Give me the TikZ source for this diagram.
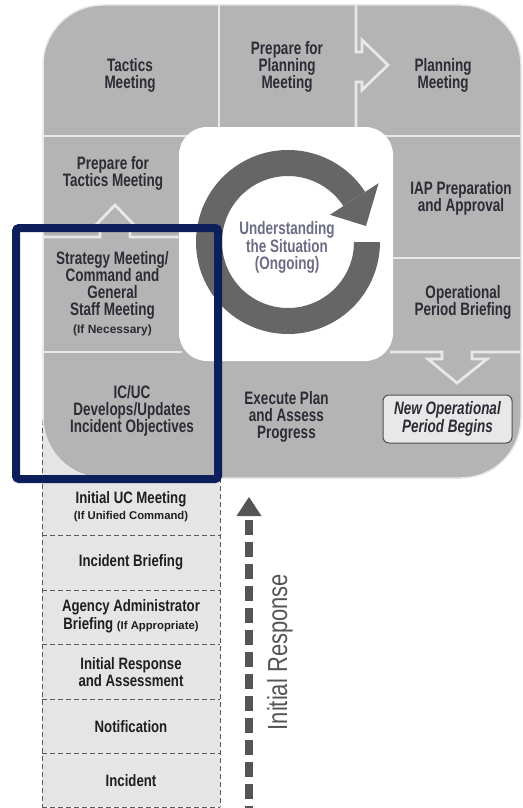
\documentclass[tikz,border=0pt]{standalone}
\usepackage{fontspec}
\setmainfont{Liberation Sans}
\newfontfamily\cf{Liberation Sans}[FakeStretch=0.8]
\newfontfamily\gf{Liberation Sans}[FakeStretch=0.75]
\newfontfamily\nf{Liberation Sans}
\definecolor{grayc}{HTML}{B4B4B4}
\definecolor{divc}{HTML}{E8E8E8}
\definecolor{ringc}{HTML}{666666}
\definecolor{txtc}{HTML}{2C2C36}
\definecolor{ctxt}{HTML}{6C6C86}
\definecolor{navyc}{HTML}{0C1F5B}
\definecolor{stackc}{HTML}{E5E5E5}
\definecolor{dashc}{HTML}{5A5A5A}
\definecolor{arrc}{HTML}{555555}
\definecolor{boxc}{HTML}{E8E8E8}
\definecolor{boxd}{HTML}{505050}
\tikzset{
  divline/.style={draw=divc, line width=2.8pt, line join=miter},
  cell/.style={font=\gf\bfseries\fontsize{18}{16.9}\selectfont, text=txtc, align=center, inner sep=0pt},
  stxt/.style={font=\cf\bfseries\fontsize{16.5}{17}\selectfont, text=black!88, align=center, inner sep=0pt},
  smalltxt/.style={font=\nf\bfseries\fontsize{11.3}{12}\selectfont, text=black!88, inner sep=0pt},
  sdash/.style={draw=dashc, line width=0.8pt, dash pattern=on 5pt off 3pt},
}
\begin{document}
\begin{tikzpicture}[x=1pt,y=-1pt]
\useasboundingbox (0,0) rectangle (522,808);
% stack background
\fill[stackc] (42,420) rectangle (220,807);
\draw[sdash] (42,420) -- (42,807);
\draw[sdash] (220,470) -- (220,807);
\draw[sdash] (42,807) -- (220,807);
\foreach \yy in {535,590,644,699,753} { \draw[sdash] (42,\yy) -- (220,\yy); }
% big gray shape
\fill[grayc, draw=divc, line width=1.5pt, rounded corners=60pt] (43,5) rectangle (521,478);
% dividers
\draw[divline] (219,5) -- (219,136);
\draw[divline] (356,5) -- (356,52) -- (362,52) -- (362,40) -- (388,65) -- (362,90) -- (362,82) -- (356,82) -- (356,136);
\draw[divline] (43,136) -- (521,136);
\draw[divline] (43,237) -- (100,237) -- (100,228) -- (93,228) -- (115,205) -- (137,228) -- (130,228) -- (130,237) -- (182,237);
\draw[divline] (43,352) -- (182,352);
\draw[divline] (390,258) -- (521,258);
\draw[divline] (390,352) -- (442,352) -- (442,359) -- (428,359) -- (457,383) -- (487,359) -- (472,359) -- (472,352) -- (521,352);
% white center
\fill[white, rounded corners=28pt] (179,127) rectangle (393,361);
% ring arrow
\fill[ringc] (288,242) ++(-33:92) arc[start angle=-33, end angle=-360, radius=92] -- (354,242) arc[start angle=0, end angle=327, radius=66] -- cycle;
\fill[ringc] (329.9,214.8) -- (378.6,183.2) -- (366,226) -- cycle;
% texts in grid
\node[cell] (tac) at (130,75.5) {Tactics\\Meeting};
\node[cell] (ppm) at (287,67) {Prepare for\\Planning\\Meeting};
\node[cell] (pm) at (443,75) {Planning\\Meeting};
\node[cell] (ptm) at (113,173.5) {Prepare for\\Tactics Meeting};
\node[cell] (iap) at (461,198.5) {IAP Preparation\\and Approval};
\node[cell] (smt) at (112.5,285.5) {Strategy Meeting/\\Command and\\General\\Staff Meeting};
\node[smalltxt, font=\nf\bfseries\fontsize{12}{13}\selectfont, text=txtc] (smn) at (112.5,330) {(If Necessary)};
\node[cell] (opb) at (463,302.5) {Operational\\Period Briefing};
\node[cell] (icuc) at (132,411) {IC/UC\\Develops/Updates\\Incident Objectives};
\node[cell] (exe) at (286.5,417) {Execute Plan\\and Assess\\Progress};
\node[cell, font=\gf\bfseries\itshape\fontsize{18}{18.5}\selectfont, fill=boxc, draw=boxd, line width=1pt, rounded corners=6pt, minimum width=129pt, minimum height=48pt] (nop) at (447.5,419) {New Operational\\Period Begins};
\node[cell, text=ctxt, font=\gf\bfseries\fontsize{18}{17.3}\selectfont] (uts) at (287,247.5) {Understanding\\the Situation\\(Ongoing)};
% stack texts
\node[stxt] (iuc) at (131,499) {Initial UC Meeting};
\node[smalltxt] (iucs) at (131,517) {(If Unified Command)};
\node[stxt] (ib) at (131,562) {Incident Briefing};
\node[stxt] (aab) at (131,607) {Agency Administrator};
\node[stxt] (aab2) at (131,625) {Briefing {\nf\bfseries\fontsize{11.3}{12}\selectfont (If Appropriate)}};
\node[stxt] (ira) at (131,672) {Initial Response\\and Assessment};
\node[stxt] (nt) at (131,727) {Notification};
\node[stxt] (inc) at (131,781) {Incident};
% initial response arrow
\coordinate (irb) at (249,808);
\coordinate (irt) at (249,520);
\coordinate (irtip) at (249,497);
\draw[arrc, line width=8pt, dash pattern=on 15pt off 7pt] (irt) -- (irb);
\fill[arrc] (236.5,516) -- (irtip) -- (261.5,516) -- cycle;
\node[rotate=90, anchor=base, font=\cf\fontsize{27.5}{28}\selectfont, text=arrc, inner sep=0pt] (irl) at (287,652) {Initial Response};
% navy highlight
\draw[navyc, line width=8pt, rounded corners=3pt] (16,228) rectangle (218,479);
\end{tikzpicture}
\end{document}
